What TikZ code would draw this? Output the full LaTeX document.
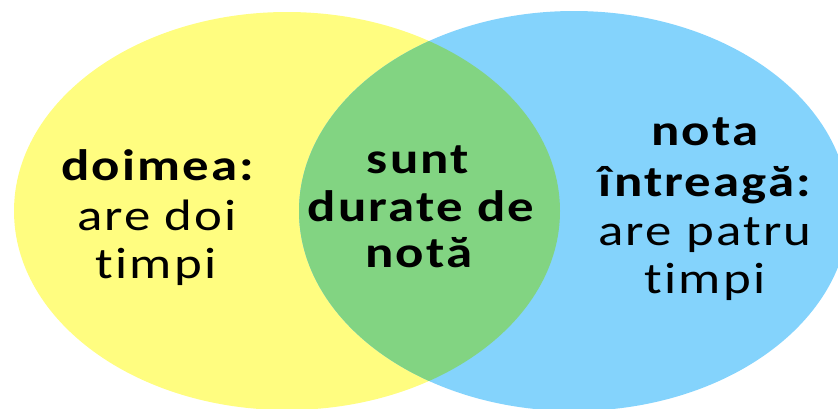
\documentclass[tikz,border=0pt]{standalone}
\usepackage{fontspec}
\newfontfamily\calfont[FakeStretch=1.2,LetterSpace=5,Ligatures={NoCommon}]{Carlito}
\definecolor{vyellow}{RGB}{255,253,128}
\definecolor{vblue}{RGB}{132,211,252}
\definecolor{vgreen}{RGB}{130,212,130}
\tikzset{
  lbl/.style={anchor=base, inner sep=0pt, font=\calfont\fontsize{44}{49}\selectfont, text=black},
  lblb/.style={lbl, font=\calfont\bfseries\fontsize{44}{49}\selectfont}
}
\begin{document}
\begin{tikzpicture}[x=1pt,y=-1pt]
\useasboundingbox (0,0) rectangle (838,408);
\begin{scope}
\clip (0,0) rectangle (838,408);
\fill[vyellow] (287,211) ellipse [x radius=273, y radius=199];
\fill[vblue] (574,211) ellipse [x radius=275, y radius=200];
\begin{scope}
\clip (287,211) ellipse [x radius=273, y radius=199];
\fill[vgreen] (574,211) ellipse [x radius=275, y radius=200];
\end{scope}
\end{scope}
% left
\node[lblb] (l1) at (158,180) {doimea:};
\node[lbl] (l2) at (157,230) {are doi};
\node[lbl] (l3) at (156,278) {timpi};
% center
\node[lblb] (c1) at (418,173) {sunt};
\node[lblb] (c2) at (421,221) {durate de};
\node[lblb] (c3) at (419,267) {notă};
% right
\node[lblb] (r1) at (705,145) {nota};
\node[lblb] (r2) at (705,196) {întreagă:};
\node[lbl] (r3) at (705,245) {are patru};
\node[lbl] (r4) at (705,293) {timpi};
\end{tikzpicture}
\end{document}
